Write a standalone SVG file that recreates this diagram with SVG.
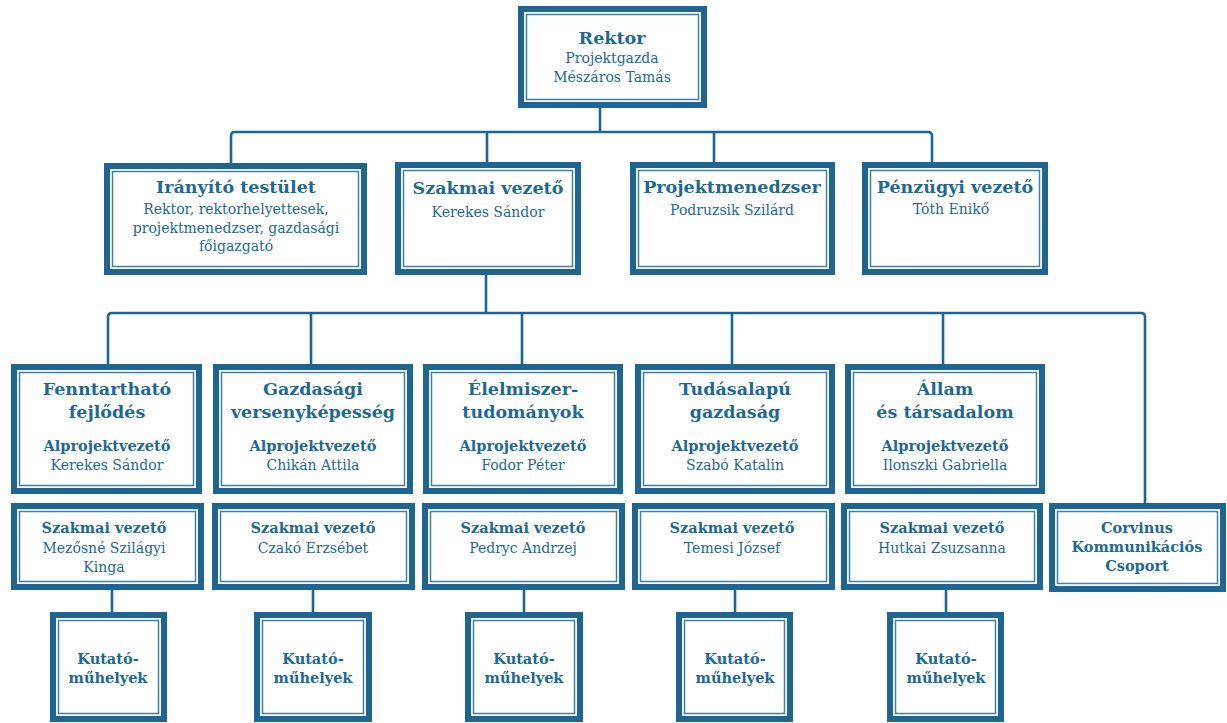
<svg xmlns="http://www.w3.org/2000/svg" width="1227" height="723" viewBox="0 0 1227 723">
<style>
.o{fill:#fff;stroke:#1f6591;stroke-width:6}
.i{fill:none;stroke:#3f80aa;stroke-width:1.5}
.c{fill:none;stroke:#1f6591;stroke-width:2.6;stroke-linejoin:round}
text{font-family:"DejaVu Serif","Liberation Serif",serif;fill:#1e6994;text-anchor:middle}
.t{font-weight:bold;font-size:17.5px}
.s{font-weight:bold;font-size:14.5px}
.n{font-size:14px}
</style>
<rect width="1227" height="723" fill="#fff"/>
<g id="connectors">
<path class="c" d="M600 108V132"/>
<path class="c" d="M231 163V136Q231 132 235 132H928Q932 132 932 136V162"/>
<path class="c" d="M487 132V162M714 132V162"/>
<path class="c" d="M486 275V313"/>
<path class="c" d="M108 364V317Q108 313 112 313H1141Q1145 313 1145 317V503"/>
<path class="c" d="M311 313V364M522 313V364M732 313V364M943 313V364"/>
<path class="c" d="M112 590V612M313 590V612M524 590V612M735 590V612M946 590V612"/>
</g>
<g id="rektor">
<rect class="o" x="521" y="9" width="183" height="96"/><rect class="i" x="526.5" y="14.5" width="172" height="85"/>
<text class="t" x="612" y="44" font-size="19.5">Rektor</text>
<text class="n" x="612" y="63">Projektgazda</text>
<text class="n" x="612" y="82">Mészáros Tamás</text>
</g>
<g id="iranyito">
<rect class="o" x="107" y="166" width="257" height="106"/><rect class="i" x="112.5" y="171.5" width="246" height="95"/>
<text class="t" x="236" y="193">Irányító testület</text>
<text class="n" x="236" y="214">Rektor, rektorhelyettesek,</text>
<text class="n" x="236" y="233">projektmenedzser, gazdasági</text>
<text class="n" x="236" y="251">főigazgató</text>
</g>
<g id="szakmai">
<rect class="o" x="398" y="165" width="180" height="107"/><rect class="i" x="403.5" y="170.5" width="169" height="96"/>
<text class="t" x="488" y="194">Szakmai vezető</text>
<text class="n" x="488" y="217">Kerekes Sándor</text>
</g>
<g id="projektmenedzser">
<rect class="o" x="633" y="165" width="199" height="107"/><rect class="i" x="638.5" y="170.5" width="188" height="96"/>
<text class="t" x="732" y="193">Projektmenedzser</text>
<text class="n" x="732" y="215">Podruzsik Szilárd</text>
</g>
<g id="penzugyi">
<rect class="o" x="865" y="165" width="180" height="107"/><rect class="i" x="870.5" y="170.5" width="169" height="96"/>
<text class="t" x="955" y="193">Pénzügyi vezető</text>
<text class="n" x="951" y="214">Tóth Enikő</text>
</g>
<g id="fenntarthato">
<rect class="o" x="14" y="367" width="185" height="124"/><rect class="i" x="19.5" y="372.5" width="174" height="113"/>
<text class="t" x="107" y="395">Fenntartható</text>
<text class="t" x="107" y="418">fejlődés</text>
<text class="s" x="107" y="451">Alprojektvezető</text>
<text class="n" x="107" y="470">Kerekes Sándor</text>
</g>
<g id="gazdasagi">
<rect class="o" x="216" y="367" width="194" height="124"/><rect class="i" x="221.5" y="372.5" width="183" height="113"/>
<text class="t" x="313" y="395">Gazdasági</text>
<text class="t" x="313" y="418">versenyképesség</text>
<text class="s" x="313" y="451">Alprojektvezető</text>
<text class="n" x="313" y="470">Chikán Attila</text>
</g>
<g id="elelmiszer">
<rect class="o" x="426" y="367" width="194" height="124"/><rect class="i" x="431.5" y="372.5" width="183" height="113"/>
<text class="t" x="523" y="395">Élelmiszer-</text>
<text class="t" x="523" y="418">tudományok</text>
<text class="s" x="523" y="451">Alprojektvezető</text>
<text class="n" x="523" y="470">Fodor Péter</text>
</g>
<g id="tudasalapu">
<rect class="o" x="638" y="367" width="194" height="124"/><rect class="i" x="643.5" y="372.5" width="183" height="113"/>
<text class="t" x="735" y="395">Tudásalapú</text>
<text class="t" x="735" y="418">gazdaság</text>
<text class="s" x="735" y="451">Alprojektvezető</text>
<text class="n" x="735" y="470">Szabó Katalin</text>
</g>
<g id="allam">
<rect class="o" x="848" y="367" width="194" height="124"/><rect class="i" x="853.5" y="372.5" width="183" height="113"/>
<text class="t" x="945" y="395">Állam</text>
<text class="t" x="945" y="418">és társadalom</text>
<text class="s" x="945" y="451">Alprojektvezető</text>
<text class="n" x="945" y="470">Ilonszki Gabriella</text>
</g>
<g id="szv1">
<rect class="o" x="14" y="506" width="187" height="81"/><rect class="i" x="19.5" y="511.5" width="176" height="70"/>
<text class="s" x="104" y="533">Szakmai vezető</text>
<text class="n" x="104" y="553">Mezősné Szilágyi</text>
<text class="n" x="104" y="572">Kinga</text>
</g>
<g id="szv2">
<rect class="o" x="215" y="506" width="197" height="81"/><rect class="i" x="220.5" y="511.5" width="186" height="70"/>
<text class="s" x="313" y="533">Szakmai vezető</text>
<text class="n" x="313" y="553">Czakó Erzsébet</text>
</g>
<g id="szv3">
<rect class="o" x="425" y="506" width="197" height="81"/><rect class="i" x="430.5" y="511.5" width="186" height="70"/>
<text class="s" x="523" y="533">Szakmai vezető</text>
<text class="n" x="523" y="553">Pedryc Andrzej</text>
</g>
<g id="szv4">
<rect class="o" x="635" y="506" width="197" height="81"/><rect class="i" x="640.5" y="511.5" width="186" height="70"/>
<text class="s" x="732" y="533">Szakmai vezető</text>
<text class="n" x="732" y="553">Temesi József</text>
</g>
<g id="szv5">
<rect class="o" x="844" y="506" width="196" height="81"/><rect class="i" x="849.5" y="511.5" width="185" height="70"/>
<text class="s" x="942" y="533">Szakmai vezető</text>
<text class="n" x="942" y="553">Hutkai Zsuzsanna</text>
</g>
<g id="corvinus">
<rect class="o" x="1052" y="506" width="171" height="83"/><rect class="i" x="1057.5" y="511.5" width="160" height="72"/>
<text class="s" x="1137" y="533">Corvinus</text>
<text class="s" x="1137" y="552">Kommunikációs</text>
<text class="s" x="1137" y="571">Csoport</text>
</g>
<g id="kutato1">
<rect class="o" x="53" y="615" width="111" height="104"/><rect class="i" x="58.5" y="620.5" width="100" height="93"/>
<text class="s" x="108" y="664">Kutató-</text>
<text class="s" x="108" y="683">műhelyek</text>
</g>
<g id="kutato2">
<rect class="o" x="257" y="615" width="112" height="104"/><rect class="i" x="262.5" y="620.5" width="101" height="93"/>
<text class="s" x="313" y="664">Kutató-</text>
<text class="s" x="313" y="683">műhelyek</text>
</g>
<g id="kutato3">
<rect class="o" x="468" y="615" width="112" height="104"/><rect class="i" x="473.5" y="620.5" width="101" height="93"/>
<text class="s" x="524" y="664">Kutató-</text>
<text class="s" x="524" y="683">műhelyek</text>
</g>
<g id="kutato4">
<rect class="o" x="679" y="615" width="111" height="104"/><rect class="i" x="684.5" y="620.5" width="100" height="93"/>
<text class="s" x="735" y="664">Kutató-</text>
<text class="s" x="735" y="683">műhelyek</text>
</g>
<g id="kutato5">
<rect class="o" x="890" y="615" width="111" height="104"/><rect class="i" x="895.5" y="620.5" width="100" height="93"/>
<text class="s" x="946" y="664">Kutató-</text>
<text class="s" x="946" y="683">műhelyek</text>
</g>
</svg>
